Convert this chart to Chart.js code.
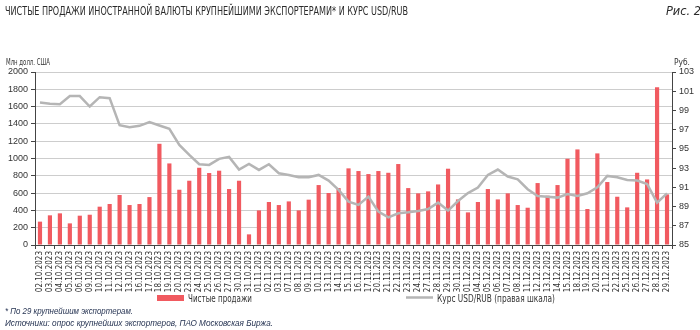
<!DOCTYPE html>
<html lang="ru">
<head>
<meta charset="utf-8">
<title>Чистые продажи иностранной валюты и курс USD/RUB</title>
<script src="https://cdn.jsdelivr.net/npm/chart.js@4.4.1/dist/chart.umd.min.js"></script>
<style>
    html, body { margin: 0; padding: 0; background: #fff; }
    #wrap { width: 700px; height: 330px; }
</style>
</head>
<body>
<div id="wrap"><canvas id="graficoProdazhi" width="700" height="330"></canvas></div>
<script>
// торговые дни, 4 квартал 2023
const dates = [
    '02.10.2023', '03.10.2023', '04.10.2023', '05.10.2023', '06.10.2023', '09.10.2023', '10.10.2023', '11.10.2023',
    '12.10.2023', '13.10.2023', '16.10.2023', '17.10.2023', '18.10.2023', '19.10.2023', '20.10.2023', '23.10.2023',
    '24.10.2023', '25.10.2023', '26.10.2023', '27.10.2023', '30.10.2023', '31.10.2023',
    '01.11.2023', '02.11.2023', '03.11.2023', '07.11.2023', '08.11.2023', '09.11.2023', '10.11.2023', '13.11.2023',
    '14.11.2023', '15.11.2023', '16.11.2023', '17.11.2023', '20.11.2023', '21.11.2023', '22.11.2023', '23.11.2023',
    '24.11.2023', '27.11.2023', '28.11.2023', '29.11.2023', '30.11.2023',
    '01.12.2023', '04.12.2023', '05.12.2023', '06.12.2023', '07.12.2023', '08.12.2023', '11.12.2023', '12.12.2023',
    '13.12.2023', '14.12.2023', '15.12.2023', '18.12.2023', '19.12.2023', '20.12.2023', '21.12.2023', '22.12.2023',
    '25.12.2023', '26.12.2023', '27.12.2023', '28.12.2023', '29.12.2023'
];

// чистые продажи, млн долл. США
const netSales = [
    270, 343, 366, 250, 339, 350, 443, 474, 578, 462, 474, 554, 1170, 943, 639, 743,
    893, 832, 859, 647, 743, 123,
    400, 497, 462, 504, 400, 524, 693, 601, 658, 886, 855, 820, 855, 835, 936, 658,
    597, 620, 700, 882, 527,
    377, 497, 647, 527, 597, 462, 431, 716, 570, 693, 997, 1105, 416, 1059, 728, 558,
    435, 835, 758, 1825, 585
];

// курс USD/RUB, руб.
const usdRub = [
    99.83, 99.69, 99.65, 100.49, 100.49, 99.41, 100.38, 100.28, 97.47, 97.26, 97.40, 97.78, 97.43, 97.08, 95.42, 94.38,
    93.40, 93.33, 93.96, 94.17, 92.85, 93.44,
    92.81, 93.40, 92.47, 92.29, 92.05, 92.05, 92.29, 91.70, 90.73, 89.51, 89.17, 90.03, 88.47, 87.88, 88.30, 88.40,
    88.54, 88.75, 89.41, 88.58, 89.58,
    90.40, 90.97, 92.29, 92.85, 92.12, 91.84, 90.80, 90.10, 90.03, 89.93, 90.31, 90.10, 90.38, 91.01, 92.19, 92.05,
    91.77, 91.70, 91.35, 89.41, 90.38
];

const leftTicks = { min: 0, max: 2000, step: 200 };
const rightTicks = { min: 85, max: 103, step: 2 };

const NARROW = '"Liberation Sans Narrow", "Arial Narrow", "DejaVu Sans Condensed", sans-serif';
const SANS = '"Liberation Sans", Arial, sans-serif';

// текст, ужатый по ширине до заданной
function fitText(ctx, text, x, y, font, color, width) {
    ctx.save();
    ctx.font = font;
    ctx.fillStyle = color;
    ctx.textBaseline = 'alphabetic';
    ctx.textAlign = 'left';
    const w = ctx.measureText(text).width;
    ctx.translate(x, y);
    if (width) ctx.scale(width / w, 1);
    ctx.fillText(text, 0, 0);
    ctx.restore();
}

const textsPlugin = {
    id: 'texts',
    afterDraw(chart) {
        const c = chart.ctx;
        fitText(c, 'ЧИСТЫЕ ПРОДАЖИ ИНОСТРАННОЙ ВАЛЮТЫ КРУПНЕЙШИМИ ЭКСПОРТЕРАМИ* И КУРС USD/RUB', 5, 15, '13px ' + NARROW, '#2b2b2b', 403);
        fitText(c, 'Рис. 2', 666, 15, 'italic 13px ' + NARROW, '#2b2b2b', 35);
        fitText(c, 'Млн долл. США', 6, 65, '9px ' + NARROW, '#333', 44);
        fitText(c, 'Руб.', 674, 65, '9px ' + NARROW, '#333', 16);

        // легенда
        c.save();
        c.fillStyle = '#F15A60';
        c.fillRect(157, 295, 27, 6);
        c.strokeStyle = '#B5B5B5';
        c.lineWidth = 2.5;
        c.beginPath();
        c.moveTo(406, 297.5);
        c.lineTo(433, 297.5);
        c.stroke();
        c.restore();
        fitText(c, 'Чистые продажи', 188, 302, '10px ' + NARROW, '#333', 64);
        fitText(c, 'Курс USD/RUB (правая шкала)', 437, 302, '10px ' + NARROW, '#333', 118);

        fitText(c, '* По 29 крупнейшим экспортерам.', 5, 314, 'italic 9px ' + SANS, '#1f2d4d', 128);
        fitText(c, 'Источники: опрос крупнейших экспортеров, ПАО Московская Биржа.', 5, 326, 'italic 9px ' + SANS, '#1f2d4d', 268);
    }
};

const ctx = document.getElementById('graficoProdazhi').getContext('2d');
const graficoProdazhi = new Chart(ctx, {
    data: {
        labels: dates,
        datasets: [{
            type: 'line',
            label: 'Курс USD/RUB (правая шкала)',
            data: usdRub,
            yAxisID: 'y1',
            borderColor: '#B5B5B5',
            borderWidth: 2.5,
            pointRadius: 0,
            tension: 0,
            order: 0
        }, {
            type: 'bar',
            label: 'Чистые продажи',
            data: netSales,
            yAxisID: 'y',
            backgroundColor: '#F15A60',
            barPercentage: 0.42,
            categoryPercentage: 1,
            order: 1
        }]
    },
    options: {
        responsive: false,
        animation: false,
        layout: { padding: { top: 72, left: 0, right: 0, bottom: 0 } },
        plugins: {
            legend: { display: false },
            title: { display: false },
            tooltip: { enabled: false }
        },
        scales: {
            x: {
                grid: { drawOnChartArea: false, tickLength: 4, tickColor: '#444', offset: true },
                border: { color: '#444' },
                ticks: {
                    autoSkip: false, maxRotation: 90, minRotation: 90, padding: 2,
                    color: '#333', font: { family: NARROW, size: 8 }
                },
                afterFit(s) { s.height = 85; }
            },
            y: {
                position: 'left',
                min: leftTicks.min,
                max: leftTicks.max,
                grid: { color: '#CDCDCD', tickColor: '#444', tickLength: 4 },
                border: { color: '#444' },
                ticks: {
                    stepSize: leftTicks.step, padding: 3, color: '#333', font: { family: SANS, size: 9 },
                    callback: v => String(v)
                },
                afterFit(s) { s.width = 35; }
            },
            y1: {
                position: 'right',
                min: rightTicks.min,
                max: rightTicks.max,
                grid: { drawOnChartArea: false, tickColor: '#444', tickLength: 4 },
                border: { color: '#444' },
                ticks: { stepSize: rightTicks.step, padding: 3, color: '#333', font: { family: SANS, size: 9 } },
                afterFit(s) { s.width = 28; }
            }
        }
    },
    plugins: [textsPlugin]
});
</script>
</body>
</html>
